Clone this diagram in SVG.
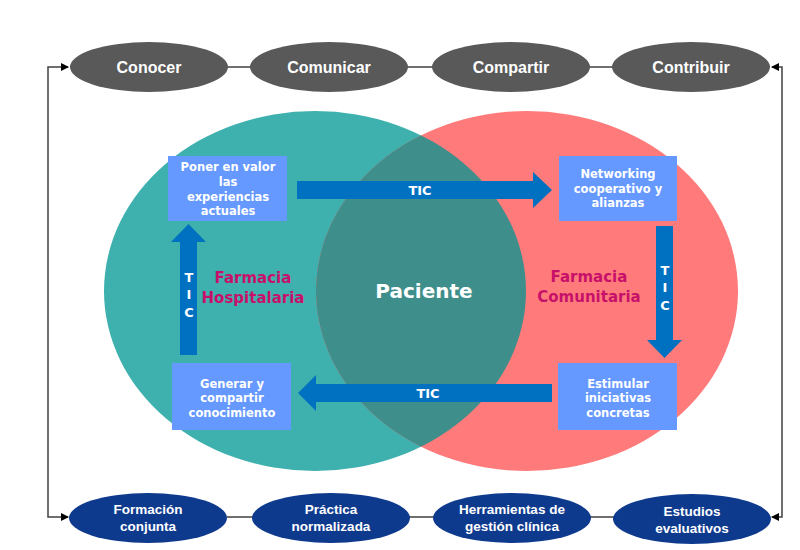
<svg xmlns="http://www.w3.org/2000/svg" width="800" height="550" viewBox="0 0 800 550">
<defs>
<style>
.top{fill:#595959}
.bot{fill:#0E3A8E}
.et{font-family:"Liberation Sans",Arial,sans-serif;font-weight:bold;fill:#fff;text-anchor:middle}
.box{fill:#6699FF}
.bt{font-family:"DejaVu Sans",Verdana,sans-serif;font-weight:bold;font-size:11.5px;fill:#fff;text-anchor:middle}
.arr{fill:#0070C0}
.tic{font-family:"DejaVu Sans",Verdana,sans-serif;font-weight:bold;font-size:13px;fill:#fff;text-anchor:middle}
.lab{font-family:"DejaVu Sans",Verdana,sans-serif;font-weight:bold;font-size:15px;fill:#C8106A;text-anchor:middle}
.ln{stroke:#404040;stroke-width:1.5;fill:none}
</style>
<marker id="ah" markerWidth="8" markerHeight="8" refX="7" refY="4" orient="auto" markerUnits="userSpaceOnUse">
<path d="M0,0 L8,4 L0,8 Z" fill="#000"/>
</marker>
<clipPath id="clipL"><ellipse cx="315" cy="291" rx="211" ry="180"/></clipPath>
</defs>
<rect width="800" height="550" fill="#fff"/>

<g id="circles">
<ellipse id="hosp-circle" cx="315" cy="291" rx="211" ry="180" fill="#3EB1AE"/>
<ellipse id="com-circle" cx="527" cy="291" rx="211" ry="180" fill="#FF7B7B"/>
<ellipse cx="527" cy="291" rx="211" ry="180" fill="#3E8E8C" clip-path="url(#clipL)"/>
</g>

<g id="connectors">
<path class="ln" d="M48,292 V67 H68" marker-end="url(#ah)"/>
<path class="ln" d="M48,292 V517 H68" marker-end="url(#ah)"/>
<path class="ln" d="M782,292 V67 H772" marker-end="url(#ah)"/>
<path class="ln" d="M782,292 V517 H772" marker-end="url(#ah)"/>
<path class="ln" d="M227,67 H251 M407,67 H433 M589,67 H613"/>
<path class="ln" d="M227,517 H253 M409,517 H434 M590,517 H614"/>
</g>

<g id="top-nodes">
<g id="conocer"><ellipse class="top" cx="149" cy="67" rx="79" ry="25"/><text class="et" x="149" y="73" font-size="16">Conocer</text></g>
<g id="comunicar"><ellipse class="top" cx="329" cy="67" rx="79" ry="25"/><text class="et" x="329" y="73" font-size="16">Comunicar</text></g>
<g id="compartir"><ellipse class="top" cx="511" cy="67" rx="79" ry="25"/><text class="et" x="511" y="73" font-size="16">Compartir</text></g>
<g id="contribuir"><ellipse class="top" cx="691" cy="67" rx="79" ry="25"/><text class="et" x="691" y="73" font-size="16">Contribuir</text></g>
</g>

<g id="bottom-nodes">
<g id="formacion"><ellipse class="bot" cx="148" cy="518" rx="79" ry="25"/><text class="et" x="148" y="514" font-size="13.5">Formación</text><text class="et" x="148" y="531" font-size="13.5">conjunta</text></g>
<g id="practica"><ellipse class="bot" cx="331" cy="518" rx="79" ry="25"/><text class="et" x="331" y="514" font-size="13.5">Práctica</text><text class="et" x="331" y="531" font-size="13.5">normalizada</text></g>
<g id="herramientas"><ellipse class="bot" cx="512" cy="518" rx="79" ry="25"/><text class="et" x="512" y="514" font-size="13.5">Herramientas de</text><text class="et" x="512" y="531" font-size="13.5">gestión clínica</text></g>
<g id="estudios"><ellipse class="bot" cx="692" cy="519" rx="79" ry="25"/><text class="et" x="692" y="516" font-size="13.5">Estudios</text><text class="et" x="692" y="533" font-size="13.5">evaluativos</text></g>
</g>

<g id="arrows">
<g id="arrow-right"><path class="arr" d="M297,181 H533 V172 L552,190 L533,208 V199 H297 Z"/><text class="tic" x="420" y="195">TIC</text></g>
<g id="arrow-down"><path class="arr" d="M656,226 H673 V340 H682 L664.5,358 L647,340 H656 Z"/><text class="tic" x="665" y="275">T</text><text class="tic" x="665" y="292">I</text><text class="tic" x="665" y="310">C</text></g>
<g id="arrow-left"><path class="arr" d="M552,384 H316 V375 L298,393 L316,411 V402 H552 Z"/><text class="tic" x="428" y="398">TIC</text></g>
<g id="arrow-up"><path class="arr" d="M180,355 V242 H171 L188.5,224 L206,242 H197 V355 Z"/><text class="tic" x="189" y="282">T</text><text class="tic" x="189" y="299">I</text><text class="tic" x="189" y="317">C</text></g>
</g>

<g id="labels">
<text class="lab" x="253" y="283">Farmacia</text>
<text class="lab" x="253" y="303">Hospitalaria</text>
<text class="lab" x="589" y="282">Farmacia</text>
<text class="lab" x="589" y="302">Comunitaria</text>
<text x="424" y="298" font-family="DejaVu Sans,Verdana,sans-serif" font-weight="bold" font-size="20" fill="#fff" text-anchor="middle">Paciente</text>
</g>

<g id="box-poner"><rect class="box" x="168" y="156" width="119" height="65"/>
<text class="bt" x="228" y="171">Poner en valor</text><text class="bt" x="228" y="186">las</text><text class="bt" x="228" y="201">experiencias</text><text class="bt" x="228" y="215">actuales</text></g>
<g id="box-networking"><rect class="box" x="559" y="156" width="118" height="65"/>
<text class="bt" x="618" y="178">Networking</text><text class="bt" x="618" y="193">cooperativo y</text><text class="bt" x="618" y="207">alianzas</text></g>
<g id="box-generar"><rect class="box" x="172" y="363" width="119" height="67"/>
<text class="bt" x="232" y="388">Generar y</text><text class="bt" x="232" y="402">compartir</text><text class="bt" x="232" y="417">conocimiento</text></g>
<g id="box-estimular"><rect class="box" x="558" y="363" width="119" height="67"/>
<text class="bt" x="618" y="388">Estimular</text><text class="bt" x="618" y="402">iniciativas</text><text class="bt" x="618" y="417">concretas</text></g>
</svg>
